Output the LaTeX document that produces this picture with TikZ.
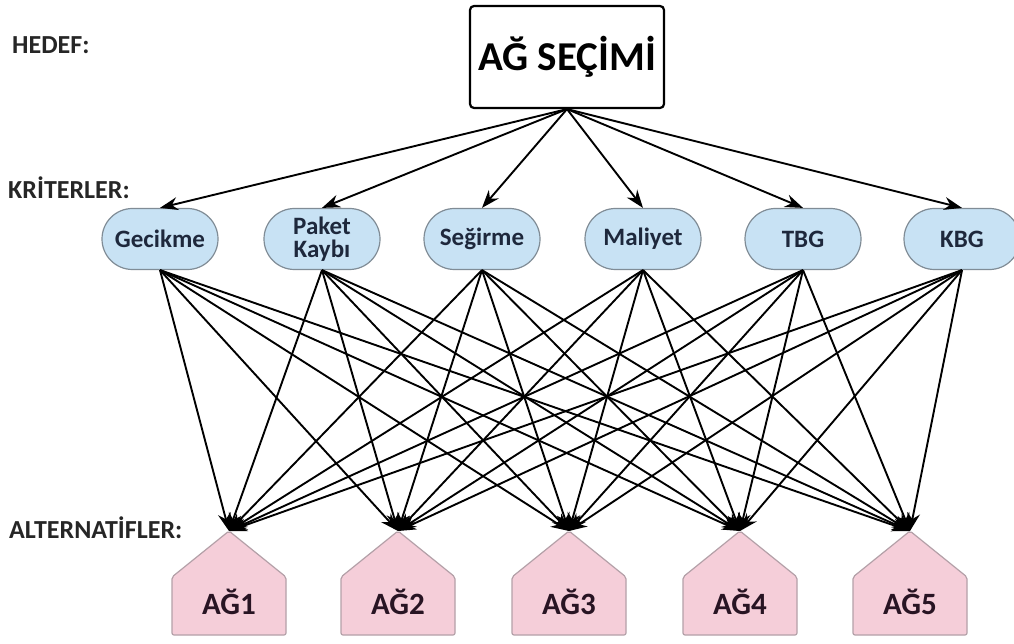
\documentclass[tikz,border=0pt]{standalone}
\usepackage{fontspec}
\setmainfont{Carlito}
\usetikzlibrary{arrows.meta,shapes.misc}
\definecolor{critfill}{RGB}{200,226,244}
\definecolor{critline}{RGB}{128,140,150}
\definecolor{critText}{RGB}{30,40,60}
\definecolor{altfill}{RGB}{245,206,217}
\definecolor{altline}{RGB}{180,160,168}
\definecolor{altText}{RGB}{40,20,35}
\tikzset{
  goalbox/.style={draw=black, line width=2.2pt, rounded corners=4pt, fill=white,
    minimum width=194pt, minimum height=102pt, inner sep=0pt,
    font=\bfseries\fontsize{41}{44}\selectfont},
  critbox/.style={draw=critline, line width=1.2pt, fill=critfill, rounded rectangle,
    minimum width=116pt, minimum height=61pt, inner sep=0pt, align=center,
    text=critText, font=\bfseries\fontsize{25}{27}\selectfont},
  levellabel/.style={anchor=west, inner sep=0pt, text=black!85, font=\bfseries\fontsize{26}{28}\selectfont},
  altshape/.style={draw=altline, line width=1.2pt, fill=altfill, rounded corners=2pt},
  alttext/.style={inner sep=0pt, text=altText, font=\bfseries\fontsize{31}{33}\selectfont},
  link/.style={draw=black, line width=1.9pt, -{Stealth[length=18pt,width=13pt]}},
}
\begin{document}
\begin{tikzpicture}[x=1pt,y=-1pt]
\useasboundingbox (0,0) rectangle (1014,644);
\fill[white] (0,0) rectangle (1014,644);

% level labels
\node[levellabel] (lh) at (12,45) {HEDEF:};
\node[levellabel] (lk) at (8,188) {KRİTERLER:};
\node[levellabel] (la) at (9,528) {ALTERNATİFLER:};

% goal
\node[goalbox] (goal) at (567,57) {AĞ SEÇİMİ};

% criteria
\node[critbox] (c1) at (160,239) {Gecikme};
\node[critbox] (c2) at (322,239) {Paket\\[-4pt]Kaybı};
\node[critbox] (c3) at (482,239) {Seğirme};
\node[critbox] (c4) at (643,239) {Maliyet};
\node[critbox] (c5) at (803,239) {TBG};
\node[critbox] (c6) at (962,239) {KBG};

% alternatives (house shapes)
\foreach \i/\cx in {1/229,2/398,3/569,4/740,5/910}{
  \path[altshape] (\cx-57,635) -- (\cx-57,577) -- (\cx,531) -- (\cx+57,577) -- (\cx+57,635) -- cycle;
  \coordinate (t\i) at (\cx,531);
  \node[alttext] (a\i) at (\cx,602) {AĞ\i};
}

% goal -> criteria
\foreach \j in {1,...,6}{
  \draw[link] (goal.south) -- (c\j.north);
}

% criteria -> alternatives
\foreach \j in {1,...,6}{
  \foreach \i in {1,...,5}{
    \draw[link] (c\j.south) -- (t\i);
  }
}
\end{tikzpicture}
\end{document}
